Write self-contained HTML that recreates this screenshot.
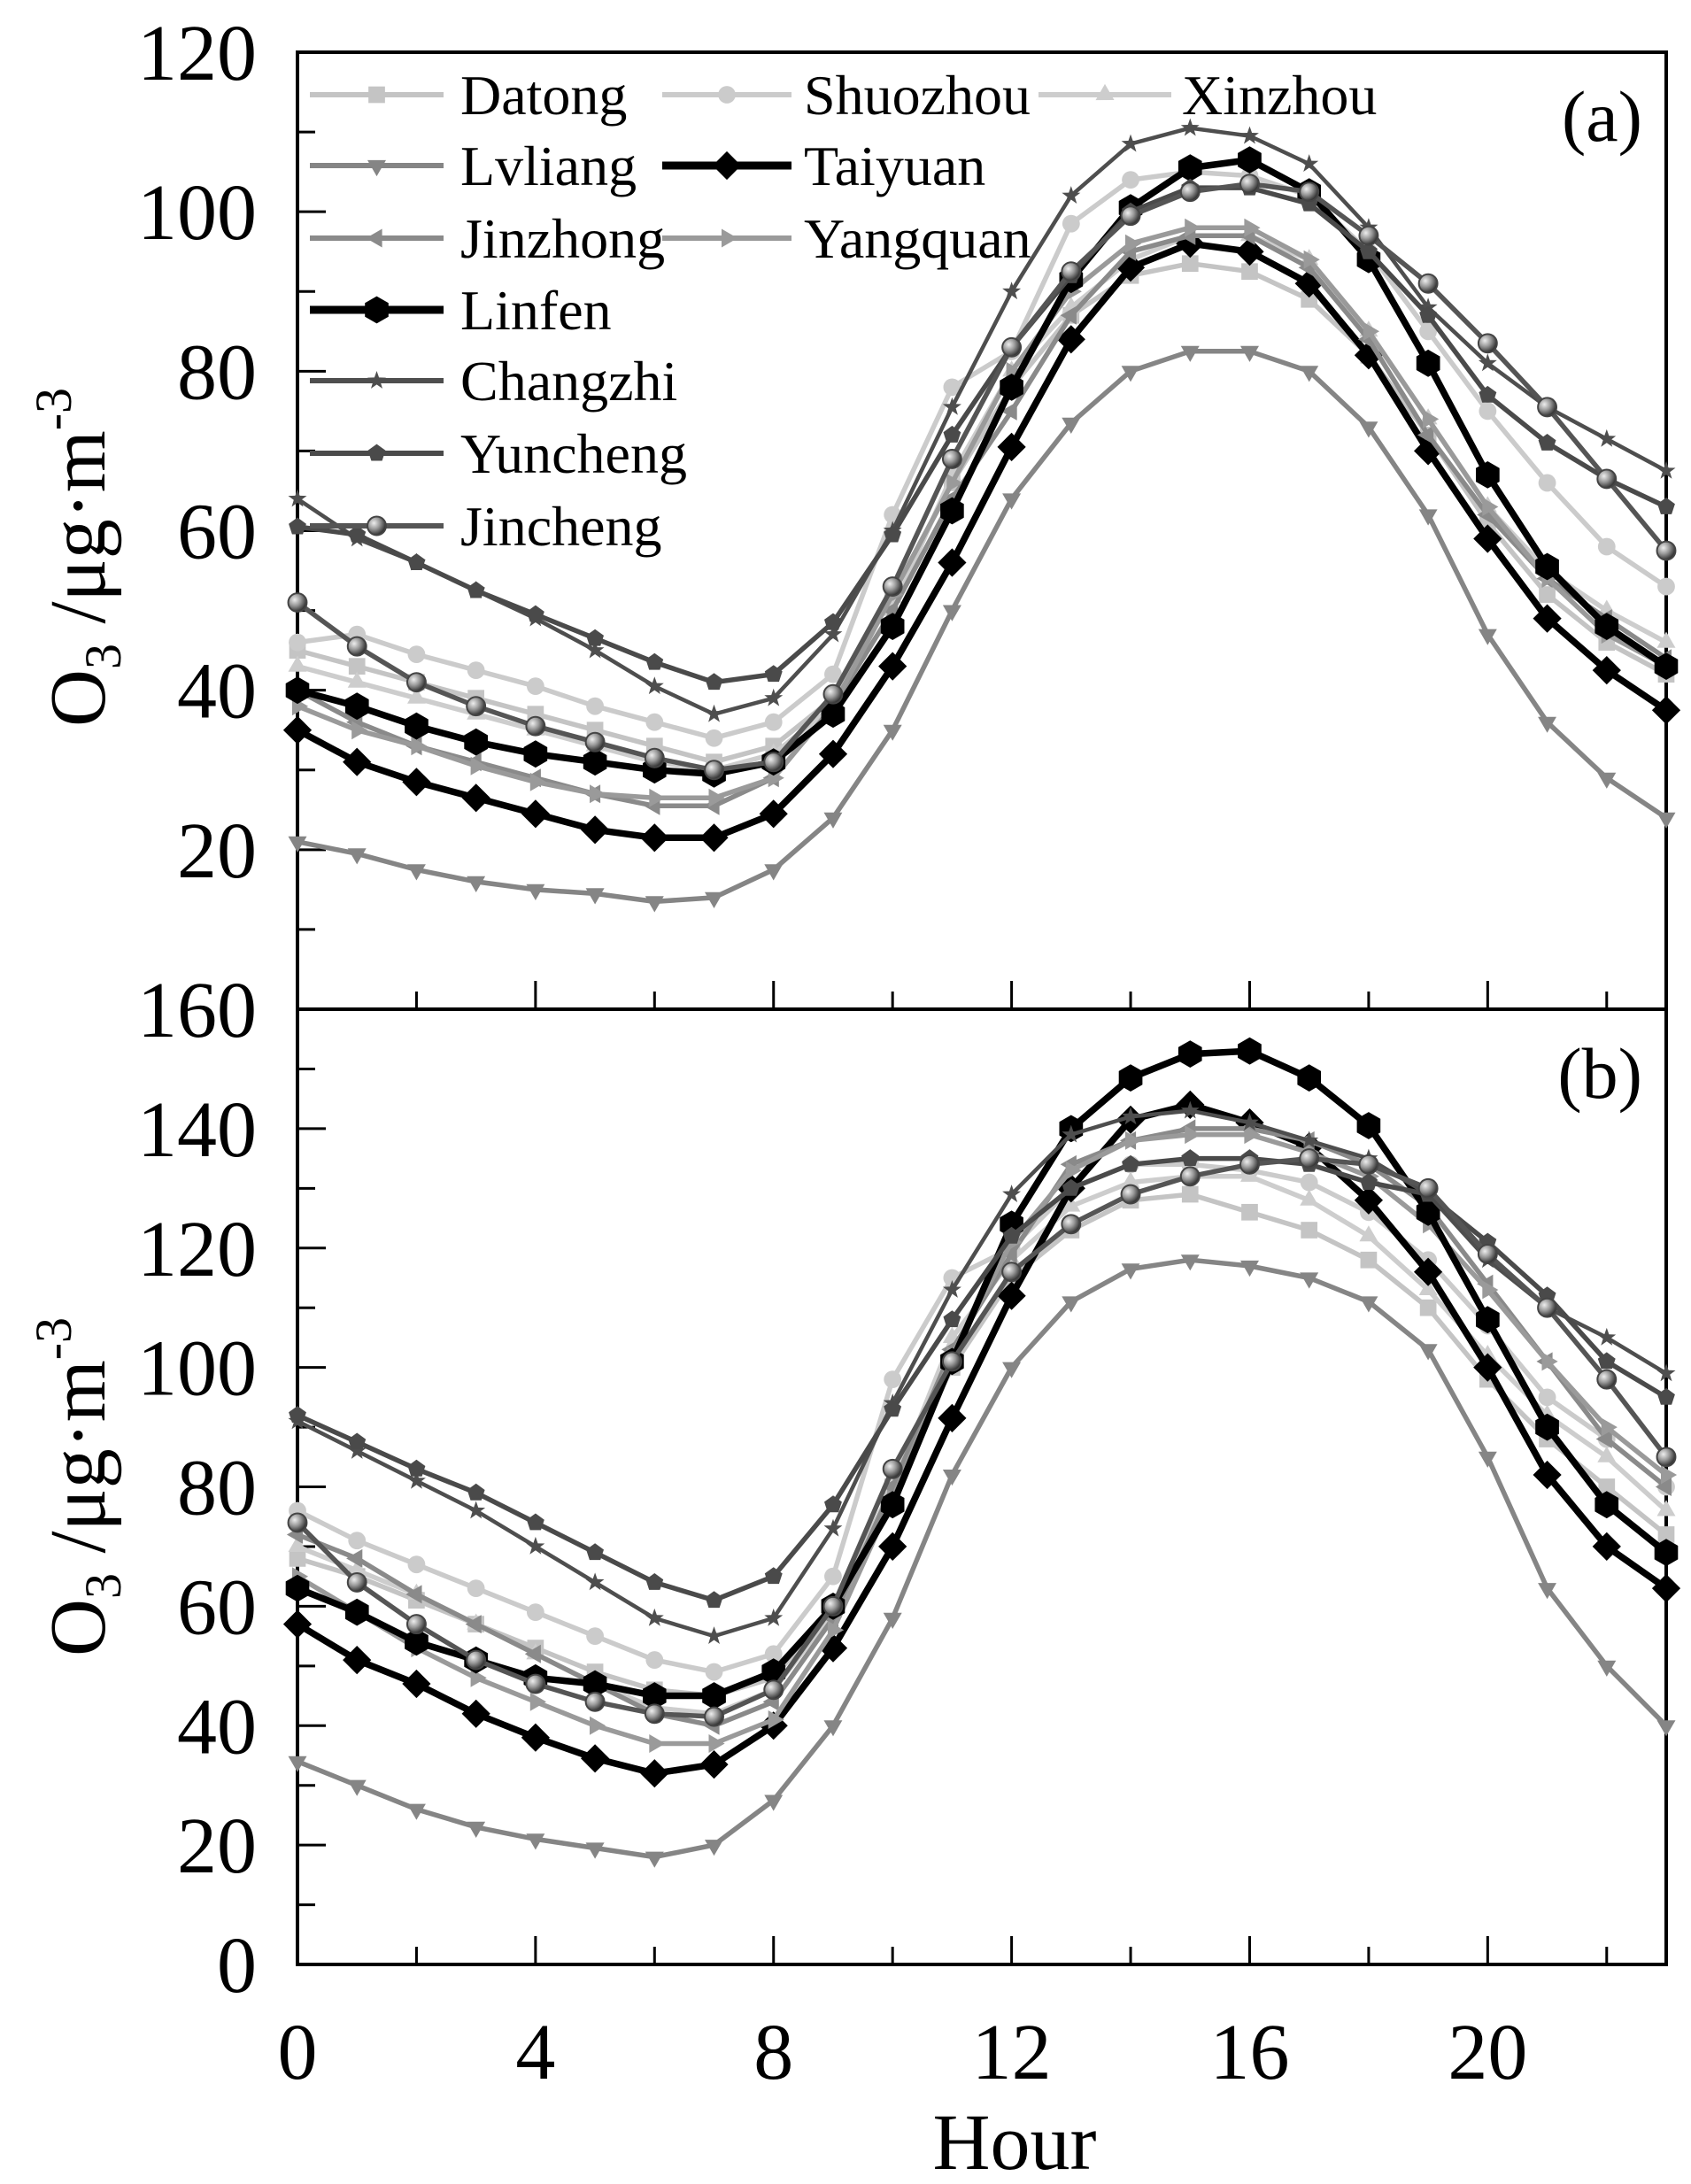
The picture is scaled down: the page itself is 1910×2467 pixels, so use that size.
<!DOCTYPE html>
<html><head><meta charset="utf-8"><style>
html,body{margin:0;padding:0;background:#fff;}
svg{display:block;font-family:"Liberation Serif",serif;}
text{font-family:"Liberation Serif",serif;}
</style></head><body>
<svg id="chart" width="1910" height="2467" viewBox="0 0 1910 2467" xmlns="http://www.w3.org/2000/svg" font-family="Liberation Serif, serif">
<defs>
<radialGradient id="sph" cx="35%" cy="35%" r="65%"><stop offset="0" stop-color="#eee"/><stop offset="0.5" stop-color="#999"/><stop offset="1" stop-color="#333"/></radialGradient>
</defs>
<g id="axes"></g>
<g id="series"></g>
<g id="legend"></g>
</svg>
<script>
const hours = [0,1,2,3,4,5,6,7,8,9,10,11,12,13,14,15,16,17,18,19,20,21,22,23];
const seriesNames = ["Datong","Shuozhou","Xinzhou","Lvliang","Taiyuan","Jinzhong","Yangquan","Linfen","Changzhi","Yuncheng","Jincheng"];
const panelAValues = [
[45,43,41,39,37,35,33,31,33,39,52,66,78,87,92,93.5,92.5,89,82,72,61,52,46,42],
[46,47,44.5,42.5,40.5,38,36,34,36,42,62,78,82.5,98.5,104,105,104.5,102,95,85,75,66,58,53],
[43,41,39,37,35,33,31,30,32,38,50,67,80,88,94,97,97,94,85,74,63,55,50,46],
[21,19.5,17.5,16,15,14.5,13.5,14,17.5,24,35,50,64,73.5,80,82.5,82.5,80,73,62,47,36,29,24],
[35,31,28.5,26.5,24.5,22.5,21.5,21.5,24.5,32,43,56,70.5,84,93,96,95,91,82,70,59,49,42.5,37.5],
[40,36,33,31,29,27,25.5,25.5,29,38,50,64,75,87,95,97,97,93,84,72,62,54,49,44],
[38,35,33,30.5,28.5,27,26.5,26.5,29,38,52,66,80,90,96,98,98,94,85,74,63,54,47,43],
[40,38,35.5,33.5,32,31,30,29.5,31,37,48,62.5,78,91.5,100.5,105.5,106.5,102.5,94,81,67,55.5,48,43],
[64,59,56,52.5,49,45,40.5,37,39,47,60,75.5,90,102,108.5,110.5,109.5,106,98,88,81,75.5,71.5,67.5],
[60.5,59.5,56,52.5,49.5,46.5,43.5,41,42,48.5,59.5,72,83,92,100,103,103,101,95,87,77,71,66.5,63],
[51,45.5,41,38,35.5,33.5,31.5,30,31,39.5,53,69,83,92.5,99.5,102.5,103.5,102.5,97,91,83.5,75.5,66.5,57.5]
];
const panelBValues = [
[68,65,61,57,53,49,46,45,48,60,80,100,115,123,128,129,126,123,118,110,98,88,80,72],
[76,71,67,63,59,55,51,49,52,65,98,115,120,130,134,134,133,131,126,118,107,95,88,80],
[70,66,62,57,52,47,43,42,46,59,80,105,118,127,131,132,132,128,122,113,102,92,85,76],
[34,30,26,23,21,19.5,18,20,27.5,40,58,82,100,111,116.5,118,117,115,111,103,85,63,50,40],
[57,51,47,42,38,34.5,32,33.5,40,53,70,91.5,112,130,141.5,144,141,137,128,116,100,82,70,63],
[72,68,62,57,52,47,42,40,44,58,80,103,119,134,138,140,140,138,134,127,114,101,88,80],
[65,59,53,48,44,40,37,37,41,56,78,102,121,133,138,139,139,136,132,124,113,101,90,82],
[63,59,54,51,48,47,45,45,49,60,77,101,124,140,148.5,152.5,153,148.5,140.5,126,108,90,77,69],
[91,86,81,76,70,64,58,55,58,73,94,113,129,139,142,143,141,138,135,129,118,110,105,99],
[92,87.5,83,79,74,69,64,61,65,77,93,108,122,130,134,135,135,134,131,129,121,112,101,95],
[74,64,57,51,47,44,42,41.5,46,60,83,101,116,124,129,132,134,135,134,130,119,110,98,85]
];
const xTickLabels = [0,4,8,12,16,20];
const yTicksA = [20,40,60,80,100,120];
const yTicksB = [0,20,40,60,80,100,120,140,160];

const colors = ["#c4c4c4","#cbcbcb","#cdcdcd","#858585","#000","#8a8a8a","#9a9a9a","#000","#4e4e4e","#4a4a4a","#555"];
const widths = [5.5,5.5,5.5,5.5,7.5,5.5,5.5,7.5,4.5,5.5,5.5];
const markers = ["square","circle","triUp","triDown","diamond","triLeft","triRight","hexagon","star","pentagon","sphere"];

const NS="http://www.w3.org/2000/svg";
const FF="Liberation Serif, serif";
const X0=336,X1=1882;
function xScale(h){return X0+(X1-X0)*h/23;}
const panels=[
 {name:"a",top:59,bottom:1140,max:120,values:panelAValues,ticks:yTicksA,label:"(a)"},
 {name:"b",top:1140,bottom:2219,max:160,values:panelBValues,ticks:yTicksB,label:"(b)"}
];
function yScale(p,v){return p.bottom-(p.bottom-p.top)*v/p.max;}
function mk(tag,attrs,parent){const e=document.createElementNS(NS,tag);for(const k in attrs)e.setAttribute(k,attrs[k]);parent.appendChild(e);return e;}
function poly(n,r,rot,cx,cy){let s=[];for(let i=0;i<n;i++){const a=rot+i*2*Math.PI/n;s.push((cx+r*Math.cos(a)).toFixed(1)+","+(cy+r*Math.sin(a)).toFixed(1));}return s.join(" ");}
function marker(type,cx,cy,col,parent,r){
 let e;
 if(type==="square")e=mk("rect",{x:cx-r*0.85,y:cy-r*0.85,width:r*1.7,height:r*1.7,fill:col},parent);
 else if(type==="circle")e=mk("circle",{cx:cx,cy:cy,r:r*0.9,fill:col},parent);
 else if(type==="sphere")e=mk("circle",{cx:cx,cy:cy,r:r*0.95,fill:"url(#sph)",stroke:"#444","stroke-width":2},parent);
 else if(type==="triUp")e=mk("polygon",{points:poly(3,r*1.1,-Math.PI/2,cx,cy),fill:col},parent);
 else if(type==="triDown")e=mk("polygon",{points:poly(3,r*1.1,Math.PI/2,cx,cy),fill:col},parent);
 else if(type==="triLeft")e=mk("polygon",{points:poly(3,r*1.1,Math.PI,cx,cy),fill:col},parent);
 else if(type==="triRight")e=mk("polygon",{points:poly(3,r*1.1,0,cx,cy),fill:col},parent);
 else if(type==="diamond")e=mk("polygon",{points:poly(4,r*1.15,0,cx,cy),fill:col},parent);
 else if(type==="hexagon")e=mk("polygon",{points:poly(6,r*1.1,Math.PI/6,cx,cy),fill:col},parent);
 else if(type==="pentagon")e=mk("polygon",{points:poly(5,r*0.95,-Math.PI/2,cx,cy),fill:col},parent);
 else if(type==="star"){let s=[];for(let i=0;i<10;i++){const a=-Math.PI/2+i*Math.PI/5;const rr=i%2?r*0.4:r*1.0;s.push((cx+rr*Math.cos(a)).toFixed(1)+","+(cy+rr*Math.sin(a)).toFixed(1));}e=mk("polygon",{points:s.join(" "),fill:col},parent);}
 return e;
}
const axes=document.getElementById("axes"), sg=document.getElementById("series"), lg=document.getElementById("legend");
panels.forEach(p=>{
 const fr=mk("rect",{x:X0,y:p.top,width:X1-X0,height:p.bottom-p.top,fill:"none",stroke:"#000","stroke-width":4},axes);
 
 
 for(let v=10;v<p.max;v+=10){
  const y=yScale(p,v);const major=v%20===0;
  const t=mk("line",{x1:X0,x2:X0+(major?32:20),y1:y,y2:y,stroke:"#000","stroke-width":3},axes);
  
  
 }
 for(let h=1;h<23;h++){
  if(h%2)continue;
  const x=xScale(h);const major=h%4===0;
  const t=mk("line",{x1:x,x2:x,y1:p.bottom,y2:p.bottom-(major?32:20),stroke:"#000","stroke-width":3},axes);
  
  
 }
 p.ticks.forEach(v=>{
  const t=mk("text",{x:290,y:yScale(p,v)+31,"text-anchor":"end","font-size":90,"font-family":FF},axes);
  t.textContent=v;
  
  
 });
 const pl=mk("text",{x:1855,y:p.top+100,"text-anchor":"end","font-size":82,"font-family":FF},axes);
 pl.textContent=p.label;
 
 
 const cy=(p.top+p.bottom)/2 + (p.name==="a"?30:0);
 const yt=mk("text",{transform:`translate(118,${cy}) rotate(-90)`,"text-anchor":"middle","font-size":90,"font-family":FF},axes);
 yt.innerHTML='O<tspan font-size="58" dy="18">3</tspan><tspan dy="-18"> /μg·m</tspan><tspan font-size="58" dy="-38">-3</tspan>';
 
 
 p.values.forEach((vals,i)=>{
  const g=mk("g",{},sg);
  
  
  const pts=vals.map((v,h)=>xScale(hours[h]).toFixed(1)+","+yScale(p,v).toFixed(1)).join(" ");
  const ln=mk("polyline",{points:pts,fill:"none",stroke:colors[i],"stroke-width":widths[i],"stroke-linejoin":"round"},g);
  
  
  vals.forEach((v,h)=>{
   const m=marker(markers[i],xScale(hours[h]),yScale(p,v),colors[i],g,(i===4||i===7)?14:11);
   
   
  });
 });
});
xTickLabels.forEach(h=>{
 const t=mk("text",{x:xScale(h),y:2348,"text-anchor":"middle","font-size":90,"font-family":FF},axes);
 t.textContent=h;
 
 
});
const xt=mk("text",{x:1146,y:2450,"text-anchor":"middle","font-size":90,"font-family":FF},axes);
xt.textContent="Hour";


const legRows=[107,187,269,350,430,512,594];
const legPos=[[0,0],[0,1],[0,2],[1,0],[1,1],[2,0],[2,1],[3,0],[4,0],[5,0],[6,0]];
const colLine=[[350,501],[748,894],[1173,1323]];
const colText=[520,908,1335];
seriesNames.forEach((n,i)=>{
 const [r,c]=legPos[i];const y=legRows[r];
 const g=mk("g",{},lg);
 
 
 mk("line",{x1:colLine[c][0],x2:colLine[c][1],y1:y,y2:y,stroke:colors[i],"stroke-width":(i===4||i===7)?9:6},g);
 marker(markers[i],(colLine[c][0]+colLine[c][1])/2,y,colors[i],g,(i===4||i===7)?14:11);
 const t=mk("text",{x:colText[c],y:y+22,"font-size":64,"font-family":FF},g);
 t.textContent=n;
});
</script>
</body></html>
